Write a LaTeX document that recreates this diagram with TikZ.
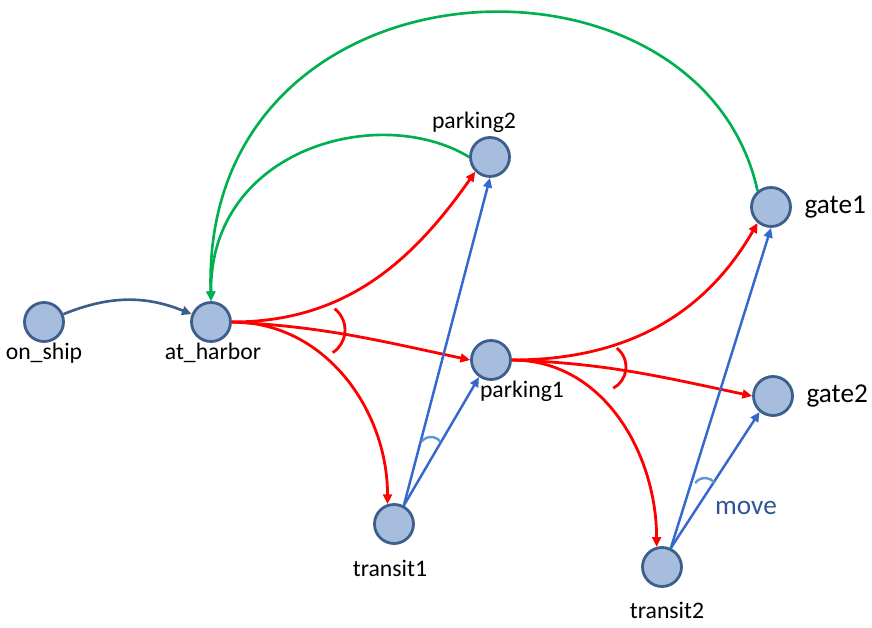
\documentclass[tikz,border=0pt]{standalone}
\usepackage{fontspec}
\setmainfont{Carlito}
\usepackage{tikz}
\usetikzlibrary{
  arrows.meta,
  positioning
}
\definecolor{harborFill}{HTML}{A7BDDD}
\definecolor{harborBorder}{HTML}{3D5F8C}
\definecolor{harborRed}{HTML}{FF0000}
\definecolor{harborGreen}{HTML}{00B050}
\definecolor{harborBlue}{HTML}{3568CF}
\definecolor{harborLight}{HTML}{5B9BD5}
\definecolor{harborDark}{HTML}{3B5E8C}
\definecolor{harborText}{HTML}{2F5597}
\tikzset{
  stateNode/.style={
    circle,
    draw=harborBorder,
    line width=1.6pt,
    fill=harborFill,
    minimum size=0.78cm,
    inner sep=0pt
  },
  stateLabel/.style={
    font=\fontsize{13.5}{16}\selectfont,
    inner sep=1pt
  },
  gateLabel/.style={
    font=\fontsize{15.5}{18}\selectfont,
    inner sep=1pt
  },
  tipArrow/.style={-{Triangle[length=5.5pt,width=5pt]}},
  redArrow/.style={tipArrow, harborRed, line width=1.6pt},
  greenArrow/.style={tipArrow, harborGreen, line width=1.5pt},
  moveArrow/.style={tipArrow, harborBlue, line width=1.4pt},
  dockArrow/.style={tipArrow, harborDark, line width=1.5pt},
  andArc/.style={harborRed, line width=1.6pt},
  moveArc/.style={harborLight, line width=1.4pt}
}

\begin{document}
\begin{tikzpicture}[x=0.02cm,y=0.02cm]
  \useasboundingbox (0,0) rectangle (872,628);

  % locations
  \node[stateNode] (onship) at (44,306) {};
  \node[stateNode] (harbor) at (211,306) {};
  \node[stateNode] (parking2) at (490,471) {};
  \node[stateNode] (parking1) at (491,268) {};
  \node[stateNode] (transit1) at (394,104) {};
  \node[stateNode] (transit2) at (662,61) {};
  \node[stateNode] (gate1) at (771,421) {};
  \node[stateNode] (gate2) at (773,232) {};

  \node[stateLabel] (onshipL) at (44,275) {on\_ship};
  \node[stateLabel] (harborL) at (213,275) {at\_harbor};
  \node[stateLabel] (parking2L) at (474,506) {parking2};
  \node[stateLabel] (parking1L) at (522,237) {parking1};
  \node[stateLabel] (transit1L) at (390,60) {transit1};
  \node[stateLabel] (transit2L) at (667,18) {transit2};
  \node[gateLabel, right=6pt of gate1] (gate1L) {gate1};
  \node[gateLabel, right=6pt of gate2] (gate2L) {gate2};

  % unloading
  \draw[dockArrow, bend left=22] (onship) to (harbor);

  % return to harbor
  \draw[greenArrow] (gate1.130) .. controls (700,700) and (200,680) .. (harbor.north);
  \draw[greenArrow] (parking2.west) .. controls (380,525) and (210,480) .. (harbor.north);

  % dispatch from harbor
  \draw[redArrow] (harbor.east) to[out=0, in=235] (parking2.225);
  \draw[redArrow] (harbor.east) to[out=-3, in=168] (parking1.west);
  \draw[redArrow] (harbor.east) to[out=0, in=90] (transit1.108);
  \draw[andArc] (318,298) ++(52:27) arc[start angle=52, end angle=-57, radius=0.54cm];

  % dispatch from parking1
  \draw[redArrow] (parking1.east) to[out=0, in=240] (gate1.230);
  \draw[redArrow] (parking1.east) to[out=-2, in=168] (gate2.west);
  \draw[redArrow] (parking1.east) to[out=0, in=90] (transit2.105);
  \draw[andArc] (602,261) ++(52:24) arc[start angle=52, end angle=-62, radius=0.48cm];

  % moves
  \draw[moveArrow] (transit1.62) -- (parking2.south);
  \draw[moveArrow] (transit1.62) -- (parking1.235);
  \draw[moveArc] (431,179) ++(140:12) arc[start angle=140, end angle=38, radius=0.24cm];

  \draw[moveArrow] (transit2.65) -- (gate1.south);
  \draw[moveArrow] (transit2.65) -- (gate2.230);
  \draw[moveArc] (705,138) ++(145:12) arc[start angle=145, end angle=35, radius=0.24cm];
  \node[gateLabel, text=harborText] (moveL) at (746,120) {move};
\end{tikzpicture}
\end{document}
